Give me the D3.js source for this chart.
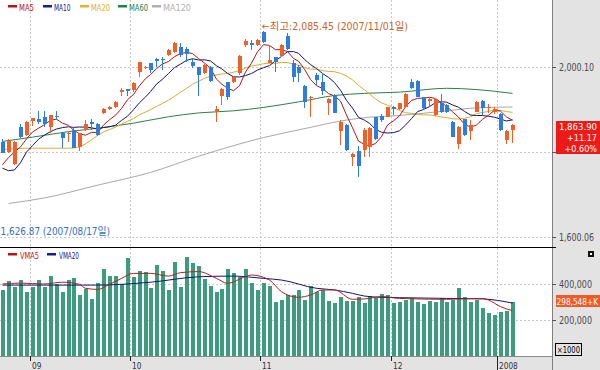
<!DOCTYPE html>
<html>
<head>
<meta charset="utf-8">
<script src="https://cdnjs.cloudflare.com/ajax/libs/d3/7.8.5/d3.min.js"></script>
<style>
  body { margin: 0; background: #fff; }
  svg { display: block; }
  text { font-family: "DejaVu Sans Condensed", "DejaVu Sans", "Noto Sans CJK KR", sans-serif; }
</style>
</head>
<body>
<script>

// trading days shown (KOSPI, 2007/08/27 - 2008/01/04)
let dates = [
  "2007-08-27","2007-08-28","2007-08-29","2007-08-30","2007-08-31",
  "2007-09-03","2007-09-04","2007-09-05","2007-09-06","2007-09-07","2007-09-10","2007-09-11","2007-09-12",
  "2007-09-13","2007-09-14","2007-09-17","2007-09-18","2007-09-19","2007-09-20","2007-09-21","2007-09-27","2007-09-28",
  "2007-10-01","2007-10-02","2007-10-04","2007-10-05","2007-10-08","2007-10-09","2007-10-10","2007-10-11",
  "2007-10-12","2007-10-15","2007-10-16","2007-10-17","2007-10-18","2007-10-19","2007-10-22","2007-10-23",
  "2007-10-24","2007-10-25","2007-10-26","2007-10-29","2007-10-30","2007-10-31",
  "2007-11-01","2007-11-02","2007-11-05","2007-11-06","2007-11-07","2007-11-08","2007-11-09","2007-11-12",
  "2007-11-13","2007-11-14","2007-11-15","2007-11-16","2007-11-19","2007-11-20","2007-11-21","2007-11-22",
  "2007-11-23","2007-11-26","2007-11-27","2007-11-28","2007-11-29","2007-11-30",
  "2007-12-03","2007-12-04","2007-12-05","2007-12-06","2007-12-07","2007-12-10","2007-12-11","2007-12-12",
  "2007-12-13","2007-12-14","2007-12-17","2007-12-18","2007-12-20","2007-12-21","2007-12-24","2007-12-26",
  "2007-12-27","2007-12-28",
  "2008-01-02","2008-01-03","2008-01-04"
];

let open = [
  1822.9, 1800.9, 1771.1, 1858.2, 1840.1, 1873.8, 1877.8, 1881.7, 1858.2, 1884.0,
  1844.0, 1843.3, 1851.9, 1812.7, 1851.9, 1871.5, 1865.2, 1891.1, 1900.5, 1905.2,
  1942.1, 1947.6, 1946.0, 1989.1, 1997.0, 2008.7, 2018.9, 2018.9, 2028.3, 2036.2,
  2046.4, 2041.7, 2012.7, 1999.3, 1985.2, 2000.9, 1897.4, 1931.9, 1964.0, 1965.6,
  1985.2, 2051.9, 2057.4, 2051.9, 2083.3, 2010.3, 2024.4, 2026.0, 2073.1, 2008.7,
  2000.9, 1956.2, 1926.4, 1981.3, 1965.6, 1914.6, 1934.2, 1850.3, 1863.6, 1787.6,
  1803.3, 1804.8, 1812.7, 1881.7, 1885.6, 1883.3, 1905.2, 1900.5, 1906.8, 1965.6,
  1968.0, 1928.7, 1920.9, 1887.2, 1916.2, 1910.7, 1871.5, 1818.9, 1877.0, 1850.3,
  1895.0, 1920.9, 1902.9, 1895.0, 1889.5, 1828.4, 1851.9
];
let high = [
  1829.9, 1829.9, 1825.0, 1866.0, 1872.0, 1880.9, 1897.4, 1897.4, 1887.2, 1897.4,
  1845.6, 1848.0, 1855.8, 1844.0, 1875.4, 1877.0, 1867.6, 1904.0, 1908.4, 1920.1,
  1949.9, 1947.6, 1965.6, 2012.7, 2002.5, 2010.3, 2020.5, 2022.9, 2041.7, 2059.7,
  2055.8, 2046.4, 2018.2, 2000.9, 2006.4, 2002.5, 1908.4, 1949.9, 1965.6, 1977.4,
  2028.3, 2065.2, 2063.6, 2066.0, 2085.45, 2051.9, 2024.4, 2054.2, 2080.9, 2016.6,
  2004.8, 1957.8, 1931.9, 1985.2, 1985.2, 1926.4, 1936.0, 1875.4, 1866.0, 1797.0,
  1814.2, 1855.8, 1858.2, 1883.3, 1889.5, 1906.8, 1908.4, 1916.2, 1938.2, 1971.1,
  1969.5, 1930.3, 1928.7, 1926.4, 1936.6, 1912.3, 1873.8, 1861.3, 1878.5, 1875.4,
  1920.1, 1922.5, 1913.1, 1905.2, 1891.1, 1851.9, 1866.0
];
let low = [
  1797.0, 1797.0, 1770.0, 1832.3, 1838.0, 1861.3, 1866.0, 1859.7, 1845.6, 1875.4,
  1808.7, 1824.4, 1808.7, 1803.3, 1849.5, 1851.9, 1838.5, 1889.0, 1899.0, 1903.0,
  1931.9, 1931.9, 1942.1, 1977.4, 1994.6, 1985.2, 2000.9, 1993.1, 2026.0, 2033.8,
  2022.9, 2012.7, 1997.0, 1931.9, 1983.6, 1965.6, 1871.5, 1910.7, 1922.5, 1963.0,
  1981.3, 2048.0, 2040.1, 2050.0, 2057.4, 2008.7, 1989.1, 2024.4, 2040.1, 1965.6,
  1965.6, 1902.9, 1883.3, 1957.8, 1934.2, 1887.2, 1891.1, 1816.6, 1803.3, 1767.2,
  1742.1, 1789.1, 1787.6, 1828.4, 1871.5, 1881.7, 1887.2, 1898.9, 1905.2, 1947.6,
  1928.7, 1900.5, 1908.4, 1884.8, 1891.1, 1892.7, 1834.6, 1806.4, 1838.5, 1828.4,
  1893.5, 1887.2, 1891.1, 1889.5, 1850.3, 1818.9, 1820.5
];
let close = [
  1798.5, 1826.8, 1822.9, 1836.2, 1869.9, 1879.3, 1871.5, 1866.0, 1887.2, 1882.5,
  1832.3, 1845.6, 1810.3, 1844.0, 1866.0, 1866.0, 1840.1, 1901.3, 1906.8, 1918.5,
  1945.2, 1944.4, 1961.7, 2011.1, 2000.9, 1993.1, 2015.0, 2016.6, 2040.1, 2057.4,
  2028.3, 2029.9, 2003.3, 1981.3, 2004.8, 1967.2, 1900.5, 1947.6, 1930.3, 1975.8,
  2026.0, 2062.1, 2051.9, 2063.6, 2059.7, 2016.6, 2012.7, 2051.9, 2041.7, 1977.4,
  1985.2, 1918.5, 1930.3, 1969.5, 1944.4, 1924.8, 1891.1, 1869.9, 1804.8, 1795.4,
  1767.2, 1851.9, 1855.8, 1829.9, 1875.4, 1905.2, 1900.5, 1914.6, 1936.6, 1949.9,
  1930.3, 1902.9, 1924.0, 1924.0, 1895.0, 1895.0, 1836.2, 1859.7, 1840.1, 1863.6,
  1918.5, 1902.9, 1906.8, 1900.5, 1851.9, 1850.3, 1863.9
];

// volume, in thousand shares
let volume = [
  366700, 416700, 385000, 422000, 357000, 385000, 422000, 385000, 446000, 398000,
  357000, 422000, 431000, 339000, 372000, 317000, 404000, 483000, 444000, 444000,
  398000, 546000, 441000, 472000, 465000, 380000, 506000, 472000, 367000, 524000,
  385000, 548000, 515000, 500000, 428000, 391000, 354000, 372000, 483000, 459000,
  441000, 483000, 404000, 367000, 404000, 391000, 302000, 311000, 339000, 339000,
  367000, 311000, 391000, 357000, 367000, 306000, 293000, 330000, 306000, 306000,
  330000, 293000, 335000, 320000, 344000, 339000, 293000, 300000, 310000, 320000,
  300000, 290000, 305000, 300000, 320000, 300000, 310000, 380000, 330000, 300000,
  310000, 265000, 237000, 228000, 246000, 250000, 298548
];

// moving averages
let ma5 = [
  1770, 1787, 1800, 1812, 1830.9, 1847.0, 1856.0, 1864.6, 1874.8, 1877.3,
  1867.9, 1862.7, 1851.6, 1842.9, 1839.6, 1846.4, 1845.3, 1863.5, 1876.0, 1886.5,
  1902.4, 1923.2, 1935.3, 1956.2, 1972.7, 1982.2, 1996.4, 2007.3, 2013.1, 2024.4,
  2031.5, 2034.5, 2031.8, 2020.0, 2009.5, 1997.3, 1971.4, 1960.3, 1950.1, 1944.3,
  1956.0, 1988.4, 2009.2, 2035.9, 2052.7, 2050.8, 2040.9, 2040.9, 2036.5, 2020.1,
  2013.8, 1994.9, 1970.6, 1956.2, 1949.6, 1937.5, 1932.0, 1919.9, 1887.0, 1857.2,
  1825.7, 1817.8, 1815.0, 1820.0, 1836.0, 1863.6, 1873.4, 1885.1, 1906.5, 1921.4,
  1926.4, 1926.9, 1928.7, 1926.2, 1915.2, 1908.2, 1894.8, 1882.0, 1865.2, 1858.9,
  1863.6, 1877.0, 1886.4, 1898.5, 1896.1, 1882.5, 1874.7
];
let ma10 = [
  1762, 1756, 1758, 1775, 1800, 1815, 1830, 1840, 1848, 1854.1,
  1857.5, 1859.4, 1858.1, 1858.9, 1858.5, 1857.2, 1854.0, 1857.6, 1859.5, 1863.1,
  1874.4, 1884.3, 1899.4, 1916.1, 1929.6, 1942.3, 1959.8, 1971.3, 1984.7, 1998.6,
  2006.9, 2015.5, 2019.6, 2016.6, 2017.0, 2014.4, 2003.0, 1996.1, 1985.1, 1976.9,
  1976.7, 1979.9, 1984.8, 1993.0, 1998.5, 2003.4, 2014.7, 2025.1, 2036.2, 2036.4,
  2032.3, 2017.9, 2005.8, 1996.4, 1984.9, 1975.7, 1963.5, 1945.3, 1921.6, 1903.4,
  1881.6, 1874.9, 1867.5, 1853.5, 1846.6, 1844.7, 1845.6, 1850.1, 1863.3, 1878.7,
  1895.0, 1900.2, 1906.9, 1916.4, 1918.3, 1917.3, 1910.9, 1905.4, 1895.7, 1887.1,
  1885.9, 1885.9, 1884.2, 1881.9, 1877.5, 1873.1, 1875.9
];
let ma20 = [
  1806, 1807, 1808, 1808.5, 1809, 1809, 1809, 1809, 1809, 1809,
  1809, 1809, 1809.5, 1812, 1819, 1829, 1839, 1847, 1853, 1858.6,
  1866.0, 1871.9, 1878.8, 1887.5, 1894.1, 1899.8, 1906.9, 1914.5, 1922.1, 1930.9,
  1940.7, 1949.9, 1959.5, 1966.4, 1973.3, 1978.4, 1981.4, 1983.7, 1984.9, 1987.8,
  1991.8, 1997.7, 2002.2, 2004.8, 2007.8, 2008.9, 2008.9, 2010.6, 2010.7, 2006.7,
  2004.5, 1998.9, 1995.3, 1994.7, 1991.7, 1989.6, 1989.1, 1985.2, 1978.9, 1969.9,
  1957.0, 1946.4, 1936.7, 1925.0, 1915.8, 1910.2, 1904.6, 1897.7, 1892.5, 1891.1,
  1888.3, 1887.6, 1887.2, 1885.0, 1882.5, 1881.0, 1878.3, 1877.8, 1879.5, 1882.9,
  1890.5, 1893.1, 1895.6, 1899.2, 1897.9, 1895.2, 1893.4
];
// [day index, value]
let ma60 = [[0, 1825], [5, 1835], [11, 1848], [16, 1856], [22, 1868], [28, 1883], [33, 1892], [39, 1897],
  [44, 1905], [50, 1918], [56, 1933], [61, 1938], [67, 1941], [75, 1950], [80, 1947], [86, 1938]];
let ma120 = [[1, 1679], [7, 1692], [16, 1722], [25, 1752], [33, 1790], [44, 1834], [52, 1858], [57, 1873],
  [62, 1882], [67, 1886], [75, 1897], [80, 1904], [86, 1906]];
let vma5 = [[0, 400000], [3, 405000], [7, 400000], [10, 410000], [13, 398000], [14, 376000], [16, 370000],
  [18, 398000], [20, 431000], [22, 459000], [25, 459000], [28, 444000], [30, 463000], [33, 469000],
  [36, 431000], [38, 404000], [41, 441000], [42, 450000], [45, 422000], [47, 357000], [50, 326000],
  [52, 339000], [54, 367000], [56, 367000], [59, 315000], [61, 317000], [64, 330000], [67, 320000],
  [75, 315000], [81, 320000], [82, 311000], [84, 274000], [86, 252000]];
let vma20 = [[0, 394000], [16, 394000], [25, 410000], [33, 440000], [39, 444000], [44, 431000], [47, 422000],
  [53, 376000], [56, 367000], [59, 348000], [61, 333000], [64, 326000], [67, 324000], [75, 320000],
  [81, 317000], [86, 294000]];

let monthTicks = ["2007-09-03", "2007-10-01", "2007-11-01", "2007-12-03", "2008-01-02"];
let monthLabels = ["09", "10", "11", "12", "2008"];
let priceTicks = [1600.06, 1800.08, 2000.10];
let priceLabelTicks = [1600.06, 2000.10];   // 1,800.08 sits under the last-price badge
let volTicks = [200000, 400000];
let maNames = ["MA5", "MA10", "MA20", "MA60", "MA120"];
let maColors = ["#b01818", "#141470", "#dcaa30", "#2f7d4a", "#a8a8a8"];
let maLegendColors = ["#c01010", "#102090", "#e8b030", "#208050", "#b0b0b0"];
let vmaNames = ["VMA5", "VMA20"];
let vmaColors = ["#b02020", "#141470"];
let lastPrice = ["1,863.90", "+11.17", "+0.60%"];
let lastVolume = "298,548+K";
let highNote = "←최고:2,085.45 (2007/11/01일)";
let lowNote = "←최저:1,626.87 (2007/08/17일)";

let upColor = "#f0602a", downColor = "#2c7ddc", volColor = "#3d9c7e";

let width = 600, height = 370,
    plotRight = 552,
    priceBottom = 247,
    volBottom = 356;

let x = d3.scaleBand().domain(dates).range([0, 515]);
let bw = x.bandwidth();
let cx = d => Math.floor(x(d) + bw / 2);

let y = d3.scaleLinear().domain([1600.06, 2000.10]).range([237, 67]);
let yv = d3.scaleLinear().domain([0, 400000]).range([volBottom, 284]);

let svg = d3.select("body").append("svg")
    .attr("width", width)
    .attr("height", height);

// right scale panel and bottom date band
svg.append("rect").attr("x", plotRight).attr("y", 0)
    .attr("width", width - plotRight).attr("height", height).attr("fill", "#e3e3e3");
svg.append("rect").attr("x", 0).attr("y", volBottom)
    .attr("width", width).attr("height", height - volBottom).attr("fill", "#e3e3e3");

svg.append("defs").append("clipPath").attr("id", "plotclip")
    .append("rect").attr("width", plotRight).attr("height", volBottom);

// grid
let grid = svg.append("g")
    .attr("stroke", "#c8c8c8")
    .attr("stroke-dasharray", "2,2")
    .attr("shape-rendering", "crispEdges");
grid.selectAll("line.vx").data(monthTicks).join("line").attr("class", "vx")
    .attr("x1", d => Math.round(x(d)) + 0.5).attr("x2", d => Math.round(x(d)) + 0.5)
    .attr("y1", 0).attr("y2", volBottom);
grid.selectAll("line.hp").data(priceTicks).join("line").attr("class", "hp")
    .attr("x1", 0).attr("x2", plotRight)
    .attr("y1", d => Math.round(y(d)) + 0.5).attr("y2", d => Math.round(y(d)) + 0.5);
grid.selectAll("line.hv").data(volTicks).join("line").attr("class", "hv")
    .attr("x1", 0).attr("x2", plotRight)
    .attr("y1", d => Math.round(yv(d)) + 0.5).attr("y2", d => Math.round(yv(d)) + 0.5);

let plot = svg.append("g").attr("clip-path", "url(#plotclip)");

let bars = dates.map((d, i) => ({
    date: d, o: open[i], h: high[i], l: low[i], c: close[i], v: volume[i]
}));

// moving averages (behind candles)
let lineFull = d3.line().x((v, i) => cx(dates[i]) + 0.5).y(v => y(v));
let lineSparse = d3.line().x(p => cx(dates[p[0]]) + 0.5).y(p => y(p[1])).curve(d3.curveMonotoneX);

[ma120, ma60].forEach((s, k) => {
    plot.append("path").datum(s)
        .attr("fill", "none").attr("stroke", maColors[4 - k]).attr("stroke-width", 1)
        .attr("d", lineSparse);
});
[ma20, ma10, ma5].forEach((s, k) => {
    plot.append("path").datum(s)
        .attr("fill", "none").attr("stroke", maColors[2 - k]).attr("stroke-width", 1)
        .attr("d", lineFull);
});

// candles
let candle = plot.append("g").attr("shape-rendering", "crispEdges")
    .selectAll("g").data(bars).join("g");
candle.append("line")
    .attr("x1", d => cx(d.date) + 0.5).attr("x2", d => cx(d.date) + 0.5)
    .attr("y1", d => y(d.h)).attr("y2", d => y(d.l))
    .attr("stroke", d => d.c >= d.o ? upColor : downColor);
candle.append("rect")
    .attr("x", d => cx(d.date) - 1)
    .attr("width", 4)
    .attr("y", d => y(Math.max(d.o, d.c)))
    .attr("height", d => Math.max(1, Math.abs(y(d.o) - y(d.c))))
    .attr("fill", d => d.c >= d.o ? upColor : downColor);

// volume bars
plot.append("g").attr("shape-rendering", "crispEdges")
    .selectAll("rect").data(bars).join("rect")
    .attr("x", d => cx(d.date) - 1)
    .attr("width", 4)
    .attr("y", d => yv(d.v))
    .attr("height", d => volBottom - yv(d.v))
    .attr("fill", volColor);

let vline = d3.line().x(p => cx(dates[p[0]]) + 0.5).y(p => yv(p[1])).curve(d3.curveMonotoneX);
[vma20, vma5].forEach((s, k) => {
    plot.append("path").datum(s)
        .attr("fill", "none").attr("stroke", vmaColors[1 - k]).attr("stroke-width", 1)
        .attr("d", vline);
});

// high / low notes
svg.append("text")
    .attr("x", cx(dates[44]) - 1).attr("y", 30)
    .attr("font-size", 10.5).attr("fill", "#c8642d")
    .attr("textLength", 146).attr("lengthAdjust", "spacingAndGlyphs")
    .text(highNote);
svg.append("text")
    .attr("x", -28).attr("y", 235)
    .attr("font-size", 10.5).attr("fill", "#3470c0")
    .attr("textLength", 138).attr("lengthAdjust", "spacingAndGlyphs")
    .text(lowNote);

// panel borders
svg.append("line").attr("x1", plotRight + 0.5).attr("x2", plotRight + 0.5)
    .attr("y1", 0).attr("y2", height).attr("stroke", "#808080");
svg.append("line").attr("x1", 0).attr("x2", plotRight + 4)
    .attr("y1", priceBottom + 0.5).attr("y2", priceBottom + 0.5).attr("stroke", "#000");
svg.append("line").attr("x1", 0).attr("x2", plotRight)
    .attr("y1", volBottom + 0.5).attr("y2", volBottom + 0.5).attr("stroke", "#8a8a8a");

// right axes
let yAxis = d3.axisRight(y).tickValues(priceTicks)
    .tickFormat(d => priceLabelTicks.includes(d) ? d3.format(",.2f")(d) : "").tickSize(4);
svg.append("g")
    .attr("transform", "translate(" + plotRight + ",0)")
    .call(yAxis)
    .call(g => g.select(".domain").remove())
    .call(g => g.selectAll("line").attr("stroke", "#555"))
    .call(g => g.selectAll("text").filter(d => !priceLabelTicks.includes(d)).remove())
    .call(g => g.selectAll("text")
        .attr("font-family", null).attr("font-size", 10).attr("fill", "#4a4a4a")
        .attr("textLength", 35).attr("lengthAdjust", "spacingAndGlyphs"));

let vAxis = d3.axisRight(yv).tickValues(volTicks).tickFormat(d3.format(",")).tickSize(4);
svg.append("g")
    .attr("transform", "translate(" + plotRight + ",0)")
    .call(vAxis)
    .call(g => g.select(".domain").remove())
    .call(g => g.selectAll("line").attr("stroke", "#555"))
    .call(g => g.selectAll("text")
        .attr("font-family", null).attr("font-size", 10).attr("fill", "#4a4a4a")
        .attr("textLength", 33).attr("lengthAdjust", "spacingAndGlyphs"));

// date axis
let xAxis = d3.axisBottom(x).tickValues(monthTicks).tickFormat((d, i) => monthLabels[i]).tickSize(5);
svg.append("g")
    .attr("transform", "translate(" + (0.5 - bw / 2) + "," + volBottom + ")")
    .call(xAxis)
    .call(g => g.select(".domain").remove())
    .call(g => g.selectAll(".tick").attr("transform", d => "translate(" + (Math.round(x(d)) + bw / 2) + ",0)"))
    .call(g => g.selectAll("line").attr("stroke", "#222").attr("y2", (d, i) => i === monthTicks.length - 1 ? 14 : 5))
    .call(g => g.selectAll("text")
        .attr("font-family", null).attr("font-size", 9).attr("fill", "#333")
        .attr("text-anchor", "start").attr("x", 1.5).attr("y", 12.5).attr("dy", null)
        .attr("textLength", (d, i) => monthLabels[i].length * 4.7).attr("lengthAdjust", "spacingAndGlyphs"));

// last price badge
svg.append("rect").attr("x", 556).attr("y", 121).attr("width", 44).attr("height", 33).attr("fill", "#ee1a18");
svg.append("g").selectAll("text").data(lastPrice).join("text")
    .attr("x", 597).attr("y", (d, i) => 130 + i * 11)
    .attr("text-anchor", "end").attr("font-size", (d, i) => i === 0 ? 9.5 : 9).attr("fill", "#fff")
    .text(d => d);

// last volume badge
svg.append("rect").attr("x", 556).attr("y", 295).attr("width", 44).attr("height", 12).attr("fill", "#f05a28");
svg.append("text").attr("x", 598).attr("y", 304.5)
    .attr("text-anchor", "end").attr("font-size", 8.2).attr("fill", "#fff")
    .text(lastVolume);

// unit box
svg.append("rect").attr("x", 555.5).attr("y", 343.5).attr("width", 26).attr("height", 12)
    .attr("fill", "none").attr("stroke", "#000");
svg.append("text").attr("x", 557).attr("y", 353)
    .attr("font-size", 9).attr("fill", "#000")
    .attr("textLength", 23).attr("lengthAdjust", "spacingAndGlyphs")
    .text("×1000");

// small setting icon
svg.append("rect").attr("x", 588).attr("y", 251).attr("width", 6).attr("height", 6).attr("fill", "#111");
svg.append("rect").attr("x", 590).attr("y", 253).attr("width", 2).attr("height", 2).attr("fill", "#fff");

// legends
let maLegendX = [8, 43, 80, 118, 152];
let maTextW = [15, 16.5, 19, 19, 28];
let lg = svg.append("g");
maNames.forEach((n, i) => {
    lg.append("rect").attr("x", maLegendX[i]).attr("y", 5).attr("width", 9).attr("height", 2.5)
        .attr("fill", maLegendColors[i]);
    lg.append("text").attr("x", maLegendX[i] + 11).attr("y", 10.5)
        .attr("font-size", 9.5).attr("fill", maLegendColors[i])
        .attr("textLength", maTextW[i]).attr("lengthAdjust", "spacingAndGlyphs")
        .text(n);
});

let vLegendX = [8, 47];
let vTextW = [19, 20];
vmaNames.forEach((n, i) => {
    lg.append("rect").attr("x", vLegendX[i]).attr("y", 253).attr("width", 9).attr("height", 2.5)
        .attr("fill", maLegendColors[i === 0 ? 0 : 1]);
    lg.append("text").attr("x", vLegendX[i] + 12).attr("y", 258.5)
        .attr("font-size", 9.5).attr("fill", maLegendColors[i === 0 ? 0 : 1])
        .attr("textLength", vTextW[i]).attr("lengthAdjust", "spacingAndGlyphs")
        .text(n);
});

</script>
</body>
</html>
